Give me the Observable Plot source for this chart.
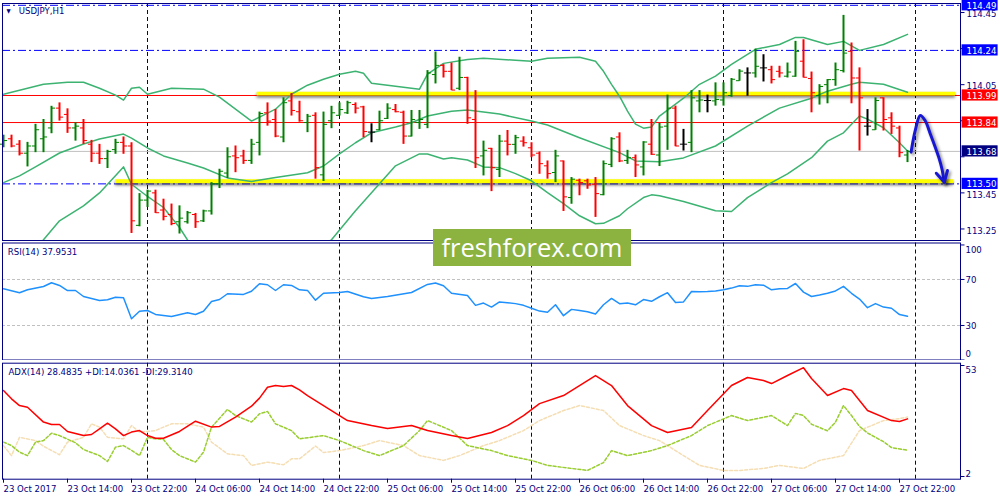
<!DOCTYPE html>
<html><head><meta charset="utf-8">
<script src="https://cdn.jsdelivr.net/npm/d3@7"></script>
<script src="https://cdn.jsdelivr.net/npm/@observablehq/plot@0.6"></script>
<style>
body{margin:0;background:#fff;}
#chart{position:relative;width:1000px;height:500px;overflow:hidden;background:#fff;}
#chart svg{position:absolute;left:0;background:transparent;}
#logo{position:absolute;left:433px;top:229px;width:198px;height:37px;background:#8cb23f;color:#fff;font-family:'Open Sans',sans-serif;font-size:25.5px;line-height:37px;text-align:center;}
</style></head><body><div id="chart"><div id="logo">freshforex.com</div></div>
<script>
// ---------- DATA ----------
const symbolTitle = "USDJPY,H1";
const rsiTitle = "RSI(14) 37.9531";
const adxTitle = "ADX(14) 28.4835 +DI:14.0361 -DI:29.3140";

const barOpen = [113.72,113.75,113.72,113.67,113.71,113.75,113.81,113.92,113.885,113.81,
113.81,113.72,113.67,113.64,113.69,113.73,113.71,113.27,113.41,113.45,
113.355,113.33,113.29,113.29,113.33,113.295,113.35,113.50,113.56,113.655,
113.655,113.63,113.73,113.894,113.857,113.76,113.96,113.90,113.84,113.88,
113.55,113.85,113.88,113.894,113.94,113.927,113.787,113.80,113.863,113.912,
113.897,113.765,113.84,113.83,114.106,114.157,114.124,114.03,114.09,113.857,
113.655,113.697,113.58,113.737,113.719,113.737,113.70,113.67,113.60,113.563,
113.627,113.424,113.52,113.517,113.498,113.44,113.608,113.76,113.63,113.645,
113.594,113.72,113.66,113.82,113.92,113.72,113.73,113.96,113.962,113.96,
113.965,113.99,114.072,114.115,114.115,114.143,114.133,114.124,114.097,114.097,
114.18,114.084,113.99,114.05,114.078,114.128,114.235,114.087,113.82,113.80,
113.977,113.866,113.81,113.66];
const barHigh = [113.77,113.77,113.74,113.73,113.83,113.857,113.93,113.949,113.916,113.839,
113.857,113.741,113.719,113.686,113.747,113.76,113.728,113.446,113.465,113.465,
113.415,113.388,113.378,113.347,113.336,113.354,113.507,113.581,113.70,113.71,
113.686,113.747,113.898,113.949,113.912,113.977,114.001,113.958,113.885,113.894,
113.898,113.93,113.949,113.958,113.949,113.93,113.833,113.903,113.944,113.94,
113.903,113.907,113.907,114.128,114.231,114.161,114.17,114.202,114.091,114.017,
113.737,113.697,113.769,113.796,113.769,113.761,113.728,113.677,113.627,113.686,
113.627,113.535,113.526,113.526,113.535,113.627,113.756,113.783,113.686,113.66,
113.734,113.857,113.835,113.992,113.931,113.802,114.017,114.017,113.992,114.06,
114.06,114.084,114.133,114.143,114.247,114.216,114.152,114.152,114.17,114.29,
114.299,114.12,114.05,114.078,114.17,114.434,114.281,114.143,113.912,113.977,
113.977,113.894,113.82,113.685];
const barLow = [113.70,113.70,113.655,113.594,113.673,113.673,113.778,113.848,113.78,113.737,
113.719,113.618,113.608,113.585,113.664,113.664,113.225,113.262,113.369,113.336,
113.295,113.268,113.222,113.277,113.253,113.286,113.327,113.474,113.53,113.562,
113.608,113.608,113.655,113.82,113.756,113.728,113.876,113.842,113.784,113.526,
113.513,113.806,113.876,113.885,113.888,113.756,113.728,113.796,113.857,113.894,
113.719,113.76,113.802,113.806,114.054,114.087,114.017,114.017,113.83,113.585,
113.544,113.457,113.535,113.655,113.664,113.704,113.645,113.553,113.526,113.507,
113.347,113.387,113.434,113.47,113.314,113.434,113.59,113.618,113.608,113.535,
113.544,113.658,113.596,113.686,113.706,113.682,113.673,113.894,113.894,113.931,
113.931,113.98,114.069,113.986,114.087,114.065,114.054,114.087,114.087,114.091,
114.087,113.894,113.937,113.944,114.041,114.115,113.944,113.682,113.765,113.797,
113.793,113.774,113.645,113.618];
const barClose = [113.74,113.71,113.67,113.71,113.80,113.76,113.92,113.87,113.81,113.82,
113.74,113.67,113.64,113.68,113.73,113.71,113.295,113.41,113.46,113.34,
113.32,113.28,113.31,113.34,113.29,113.35,113.50,113.57,113.65,113.645,
113.63,113.72,113.89,113.848,113.765,113.95,113.907,113.85,113.875,113.59,
113.83,113.894,113.912,113.95,113.92,113.79,113.787,113.85,113.92,113.90,
113.765,113.857,113.857,114.115,114.157,114.124,114.02,114.09,113.866,113.645,
113.686,113.59,113.737,113.719,113.756,113.728,113.66,113.612,113.557,113.655,
113.428,113.526,113.507,113.494,113.446,113.612,113.75,113.627,113.645,113.605,
113.732,113.664,113.815,113.92,113.71,113.72,113.977,113.965,113.962,113.968,
114.005,114.08,114.125,114.115,114.152,114.143,114.078,114.115,114.12,114.235,
114.091,114.005,114.04,114.078,114.133,114.225,114.087,113.977,113.82,113.962,
113.857,113.82,113.673,113.68];

// Bollinger bands: [bar index, price]
const bbUpper = [[0,113.997],[5,114.052],[8,114.063],[10,114.063],[12,114.03],[14,113.992],[15,113.964],[16,114.03],[17,114.036],[18,113.997],[20,114.019],[21,114.03],[25,114.025],[27,113.981],[29,113.914],[31,113.848],[32,113.87],[34,113.914],[36,113.997],[38,114.047],[40,114.08],[42,114.108],[44,114.124],[45,114.113],[46,114.058],[49,114.041],[52,114.025],[53,114.108],[55,114.168],[58,114.19],[60,114.196],[64,114.185],[66,114.18],[68,114.196],[72,114.202],[74,114.18],[75,114.124],[76,114.052],[77,113.986],[78,113.903],[79,113.831],[80,113.809],[81,113.815],[82,113.876],[85,113.975],[87,114.052],[89,114.097],[91,114.163],[93,114.218],[94,114.246],[97,114.273],[99,114.312],[100,114.312],[103,114.273],[105,114.29],[107,114.24],[110,114.273],[113,114.329]];
const bbMiddle = [[0,113.507],[2,113.544],[4,113.594],[7,113.671],[10,113.721],[12,113.749],[15,113.776],[16,113.754],[18,113.699],[20,113.655],[23,113.616],[25,113.588],[28,113.533],[31,113.513],[34,113.535],[38,113.562],[40,113.599],[42,113.666],[44,113.728],[46,113.783],[49,113.815],[51,113.839],[53,113.876],[56,113.903],[58,113.909],[60,113.899],[62,113.887],[66,113.848],[68,113.826],[72,113.756],[77,113.673],[79,113.627],[82,113.623],[85,113.644],[89,113.71],[93,113.82],[97,113.92],[101,113.975],[103,114.014],[106,114.052],[107,114.063],[110,114.052],[113,114.008]];
const bbLower = [[0,113.02],[3,113.1],[5,113.19],[7,113.295],[10,113.378],[12,113.45],[15,113.594],[16,113.498],[18,113.43],[20,113.369],[22,113.258],[23,113.189],[26,113.08],[30,113.03],[35,113.06],[39,113.14],[41,113.19],[44,113.351],[47,113.5],[49,113.6],[52,113.666],[53,113.666],[55,113.638],[56,113.645],[58,113.632],[60,113.594],[62,113.59],[64,113.557],[66,113.517],[68,113.452],[70,113.39],[72,113.323],[74,113.279],[75,113.281],[77,113.323],[78,113.362],[80,113.424],[81,113.439],[82,113.434],[85,113.402],[89,113.351],[91,113.347],[93,113.424],[96,113.507],[98,113.555],[101,113.645],[103,113.737],[105,113.783],[106,113.831],[107,113.876],[108,113.859],[110,113.811],[112,113.728],[113,113.682]];

const rsiValues = [[0,61.9],[2,58.4],[3,61],[5,63.9],[6,67.1],[7,64.8],[8,60.4],[9,60.4],[10,55.2],[12,51.7],[13,52.3],[14,54.6],[15,54.1],[16,35.8],[17,42.4],[18,43],[19,39.6],[21,37.8],[23,41],[24,39.6],[25,42.4],[26,50.9],[27,52.6],[28,57.6],[30,57],[31,59.8],[32,66.3],[33,65.4],[34,60.4],[35,65.4],[36,64.8],[37,61],[38,60.5],[39,52],[40,58],[42,58.7],[43,59.6],[45,55],[46,53.5],[48,55.2],[51,58.7],[53,65.7],[54,67],[55,64.5],[56,58],[58,56],[59,47.5],[60,49.5],[61,46],[62,50.5],[64,49],[65,47.5],[66,45],[67,42.5],[68,41.5],[69,48],[70,38.5],[71,44],[72,43],[73,42],[74,40],[75,48],[76,53.5],[77,49],[78,49.5],[79,48],[80,52.5],[81,51],[82,55],[83,58.5],[84,50],[85,50.5],[86,59.6],[87,59.4],[88,59.6],[89,60],[90,61],[91,62.5],[92,64.5],[93,64],[94,65.5],[95,65],[96,61],[97,62],[98,62.2],[99,66.5],[100,59],[101,55.2],[102,56.5],[103,58],[104,60],[105,64],[106,58],[107,53],[108,45.5],[109,49],[110,46],[111,45],[112,39.5],[113,37.9531]];
const rsiLevels = [70, 30];
const rsiTicks = [100, 70, 30, 0];

const adxMain = [[0,41.5],[1,37.7],[2,34.6],[3,33.8],[5,27],[6,25.9],[7,25.9],[8,22.7],[10,20.8],[11,21.3],[12,23.9],[13,26.5],[14,23.9],[15,20.8],[16,22.4],[17,23.1],[18,20.8],[19,19.6],[20,19.6],[22,22.7],[24,27.4],[26,24.7],[27,25],[29,29.3],[31,34.3],[32,38],[33,43],[34,43.8],[35,43.4],[36,43.8],[37,41.8],[38,39.2],[41,32.3],[43,27.7],[46,25.4],[48,24.1],[51,25.4],[53,23.1],[56,20.8],[58,19.5],[61,22.2],[63,25.4],[65,30],[67,35.5],[70,39.2],[72,43.8],[74,48.4],[76,43.8],[78,34.6],[81,25.4],[83,22.2],[86,24.5],[88,32.3],[91,43.8],[93,47.5],[95,46.1],[96,44.7],[98,48.4],[100,52],[101,47],[103,39.2],[105,42.4],[106,41.5],[107,36.9],[108,32.3],[111,27.7],[112,27.3],[113,28.4835]];
const plusDI = [[0,17.8],[1,16.2],[2,13.2],[3,11.6],[4,17.8],[5,18.5],[6,21.9],[7,20.8],[9,17.5],[10,14.4],[12,11.6],[13,8.9],[14,15.5],[15,16.2],[16,14],[17,11.6],[18,20],[19,19.3],[20,19],[21,14.4],[22,11.6],[24,8.6],[25,13.2],[26,24.7],[28,32.8],[29,30],[31,27],[32,30.8],[33,31.9],[34,26.2],[36,23.1],[37,19.3],[40,20.8],[42,18.5],[45,13.9],[47,11.6],[50,16.2],[52,23.1],[53,27.7],[56,23.1],[58,16.2],[61,13.9],[63,11.6],[66,9.4],[68,7.1],[71,5.7],[73,4.8],[75,8.4],[76,13.9],[78,11.6],[81,13.9],[83,16.2],[86,20.8],[88,25.4],[91,30],[93,27.7],[96,30],[98,25.4],[99,31],[100,30],[101,26],[103,23],[104,27],[105,34.6],[106,30],[107,25],[108,22],[110,18],[111,15.3],[113,14.0361]];
const minusDI = [[0,16.2],[1,11.6],[2,20],[4,18.5],[5,15.9],[7,12],[8,17.8],[10,20],[11,26.2],[12,24.7],[13,20],[15,19.3],[16,25.4],[17,22.4],[19,23.1],[20,24.7],[21,26.2],[23,26.2],[25,24.7],[26,17.8],[28,12.4],[30,11.6],[31,7.1],[33,8.6],[35,7.4],[36,10.1],[37,10.1],[39,16],[40,13],[42,13.9],[45,16.2],[47,18.5],[50,16.2],[52,11.6],[55,9.4],[57,11.6],[60,16.2],[62,18.5],[65,23.1],[67,27.7],[70,32.3],[72,34.6],[75,32.3],[77,25.4],[80,20.8],[82,18.5],[85,11.6],[87,7.1],[90,4.8],[92,4.8],[95,5.7],[97,7.1],[100,5.7],[102,9.4],[105,11.6],[107,23.1],[110,27.7],[112,28.6],[113,29.314]];
const adxTicks = [53, 2];

const priceTicks = [114.45, 114.25, 114.05, 113.85, 113.65, 113.45, 113.25];
const levelPrices = [114.49, 114.24, 113.99, 113.84, 113.68, 113.50];
const levelKinds = ["blue", "blue", "red", "red", "bid", "blue"];
const zoneStart = [31.7, 14];
const zoneEnd = [119, 118.75];
const zoneLow = [113.987, 113.501];
const zoneHigh = [114.008, 113.523];
const arrowPath = [[113.45,113.676],[113.97,113.796],[114.59,113.879],[115.2,113.851],[115.84,113.778],[116.47,113.703],[116.9,113.648],[117.3,113.584],[117.6,113.509]];
const arrowHead = [[116.6,113.559],[117.6,113.509],[118.0,113.574]];

const timeTickIdx = [0,8,16,24,32,40,48,56,64,72,80,88,96,104,112];
const timeTickLabels = ["23 Oct 2017","23 Oct 14:00","23 Oct 22:00","24 Oct 06:00","24 Oct 14:00","24 Oct 22:00","25 Oct 06:00","25 Oct 14:00","25 Oct 22:00","26 Oct 06:00","26 Oct 14:00","26 Oct 22:00","27 Oct 06:00","27 Oct 14:00","27 Oct 22:00"];
const daySeparatorIdx = [18, 42, 66, 90, 114];

// ---------- STYLE / LAYOUT ----------
const NAVY = "#000080";
const FONT = "'DejaVu Sans Condensed','Liberation Sans',sans-serif";
const ML = 2, MR = 40, W = 1000;
const xDomain = [-0.125, 119.625];
const xMax = xDomain[1];
const common = {
  width: W, marginLeft: ML, marginRight: MR,
  x: {domain: xDomain, axis: null},
  style: {fontFamily: FONT, fontSize: "9.5px", background: "transparent"}
};
const fx = d => d[0], fy = d => d[1];
const sep = () => Plot.ruleX(daySeparatorIdx, {x: d => d, stroke: NAVY, strokeDasharray: "4,3", strokeWidth: 1});

const bars = barOpen.map((o, i) => ({i, o, h: barHigh[i], l: barLow[i], c: barClose[i]}));
const barColor = d => d.c > d.o ? "#008000" : d.c < d.o ? "#ff0000" : "#000000";
const levels = levelPrices.map((p, k) => ({p, kind: levelKinds[k]}));
const boxColor = {blue: "#0000ff", red: "#ff0000", bid: "#000080"};
const zones = zoneStart.map((s, k) => ({x1: s, x2: zoneEnd[k], y1: zoneLow[k], y2: zoneHigh[k]}));
const priceDomain = [113.186, 114.50];
const boxHalf = (priceDomain[1] - priceDomain[0]) / 237 * 5.6;
// tick labels that sit under a level box are hidden behind it in the original
const visibleTickLabels = priceTicks.filter(t => !levelPrices.some(p => Math.abs(p - t) < boxHalf));

// ---------- PRICE PANEL ----------
const priceSvg = Plot.plot({
  ...common, height: 241, marginTop: 3, marginBottom: 1,
  y: {domain: priceDomain, axis: null},
  marks: [
    sep(),
    Plot.ruleY(levels.filter(d => d.kind === "blue"), {y: "p", stroke: "#0000ff", strokeDasharray: "8,3,2,3"}),
    Plot.ruleY(levels.filter(d => d.kind === "red"), {y: "p", stroke: "#ff0000"}),
    Plot.ruleY(levels.filter(d => d.kind === "bid"), {y: "p", stroke: "#c0c0c0"}),
    Plot.rect(zones, {x1: "x1", x2: "x2", y1: "y1", y2: "y2", fill: "#ffff00", ariaDescription: "zones"}),
    Plot.line(bbUpper, {x: fx, y: fy, stroke: "#3cb371", clip: true}),
    Plot.line(bbMiddle, {x: fx, y: fy, stroke: "#3cb371", clip: true}),
    Plot.line(bbLower, {x: fx, y: fy, stroke: "#3cb371", clip: true}),
    Plot.ruleX(bars, {x: "i", y1: "l", y2: "h", stroke: barColor, strokeWidth: 2}),
    Plot.link(bars, {x1: d => d.i - 0.45, x2: "i", y1: "o", y2: "o", stroke: barColor}),
    Plot.link(bars, {x1: "i", x2: d => d.i + 0.45, y1: "c", y2: "c", stroke: barColor}),
    Plot.line(arrowPath, {x: fx, y: fy, curve: "catmull-rom", stroke: "#1818d4", strokeWidth: 3, ariaDescription: "arrow"}),
    Plot.line(arrowHead, {x: fx, y: fy, stroke: "#1818d4", strokeWidth: 3, ariaDescription: "arrow"}),
    Plot.frame({stroke: NAVY}),
    Plot.link(priceTicks, {x1: xMax, x2: xMax + 0.5, y1: d => d, y2: d => d, stroke: NAVY}),
    Plot.text(visibleTickLabels, {x: xMax, y: d => d, dx: 6, dy: 1.6, text: d => d.toFixed(2), textAnchor: "start", fill: NAVY}),
    Plot.rect(levels, {x1: xMax + 0.2, x2: xMax + 4.7, y1: d => d.p - boxHalf, y2: d => d.p + boxHalf, fill: d => boxColor[d.kind]}),
    Plot.text(levels, {x: xMax, y: "p", dx: 6, dy: 0.5, text: d => d.p.toFixed(2), textAnchor: "start", fill: "#ffffff"}),
    Plot.text(["▼"], {frameAnchor: "top-left", dx: 4, dy: 7.5, text: d => d, textAnchor: "start", lineAnchor: "middle", fill: NAVY, fontSize: 6}),
    Plot.text([symbolTitle], {frameAnchor: "top-left", dx: 16.3, dy: 7.4, text: d => d, textAnchor: "start", lineAnchor: "middle", fill: NAVY})
  ]
});
priceSvg.style.top = "0px";
d3.select(priceSvg).selectAll('g[aria-description="zones"]').style("filter", "drop-shadow(0px 2px 1.5px rgba(0,0,0,0.55))");
d3.select(priceSvg).selectAll('g[aria-description="arrow"]').style("filter", "drop-shadow(2px 2px 1.5px rgba(0,0,0,0.45))");

// ---------- RSI PANEL ----------
const rsiSvg = Plot.plot({
  ...common, height: 118, marginTop: 0.5, marginBottom: 0.5,
  y: {domain: [0, 101.7], axis: null},
  marks: [
    sep(),
    Plot.ruleY(rsiLevels, {y: d => d, stroke: "#c0c0c0", strokeDasharray: "3,2"}),
    Plot.line(rsiValues, {x: fx, y: fy, stroke: "#1e90ff"}),
    Plot.frame({stroke: NAVY}),
    Plot.link(rsiTicks, {x1: xMax, x2: xMax + 0.5, y1: d => d, y2: d => d, stroke: NAVY}),
    Plot.text(rsiTicks.filter(d => d !== 100 && d !== 0), {x: xMax, y: d => d, dx: 5, text: d => String(d), textAnchor: "start", fill: NAVY}),
    Plot.text(rsiTicks.filter(d => d === 100), {x: xMax, y: d => d, dx: 5, dy: 4.5, text: d => String(d), textAnchor: "start", fill: NAVY}),
    Plot.text(rsiTicks.filter(d => d === 0), {x: xMax, y: d => d, dx: 5, dy: -6.5, text: d => String(d), textAnchor: "start", fill: NAVY}),
    Plot.text([rsiTitle], {frameAnchor: "top-left", dx: 5.3, dy: 9.2, text: d => d, textAnchor: "start", lineAnchor: "middle", fill: NAVY})
  ]
});
rsiSvg.style.top = "242px";

// ---------- ADX PANEL + TIME AXIS ----------
const adxDomain = [0.76, 54.06];
const adxPerPx = (adxDomain[1] - adxDomain[0]) / 116;
const adxSvg = Plot.plot({
  ...common, height: 138, marginTop: 0.7, marginBottom: 21.3,
  y: {domain: adxDomain, axis: null},
  marks: [
    sep(),
    Plot.line(minusDI, {x: fx, y: fy, stroke: "#f5deb3", strokeDasharray: "3,2"}),
    Plot.line(plusDI, {x: fx, y: fy, stroke: "#9acd32", strokeDasharray: "3,2"}),
    Plot.line(adxMain, {x: fx, y: fy, stroke: "#ff0000"}),
    Plot.frame({stroke: NAVY}),
    Plot.link(adxTicks, {x1: xMax, x2: xMax + 0.5, y1: d => d, y2: d => d, stroke: NAVY}),
    Plot.text(adxTicks.filter(d => d === 53), {x: xMax, y: d => d, dx: 5, dy: 4, text: d => String(d), textAnchor: "start", fill: NAVY}),
    Plot.text(adxTicks.filter(d => d === 2), {x: xMax, y: d => d, dx: 5, dy: -3, text: d => String(d), textAnchor: "start", fill: NAVY}),
    Plot.ruleX(timeTickIdx, {x: d => d, y1: adxDomain[0], y2: adxDomain[0] - 4 * adxPerPx, stroke: NAVY}),
    Plot.text(timeTickIdx, {x: d => d, frameAnchor: "bottom", dx: 0, dy: 9.5, text: (d, i) => timeTickLabels[i], textAnchor: "start", lineAnchor: "middle", fill: NAVY}),
    Plot.text([adxTitle], {frameAnchor: "top-left", dx: 6, dy: 8.3, text: d => d, textAnchor: "start", lineAnchor: "middle", fill: NAVY})
  ]
});
adxSvg.style.top = "362px";

const chart = document.getElementById("chart");
const logo = document.getElementById("logo");
chart.insertBefore(priceSvg, logo);
chart.insertBefore(rsiSvg, logo);
chart.insertBefore(adxSvg, logo);
</script></body></html>
